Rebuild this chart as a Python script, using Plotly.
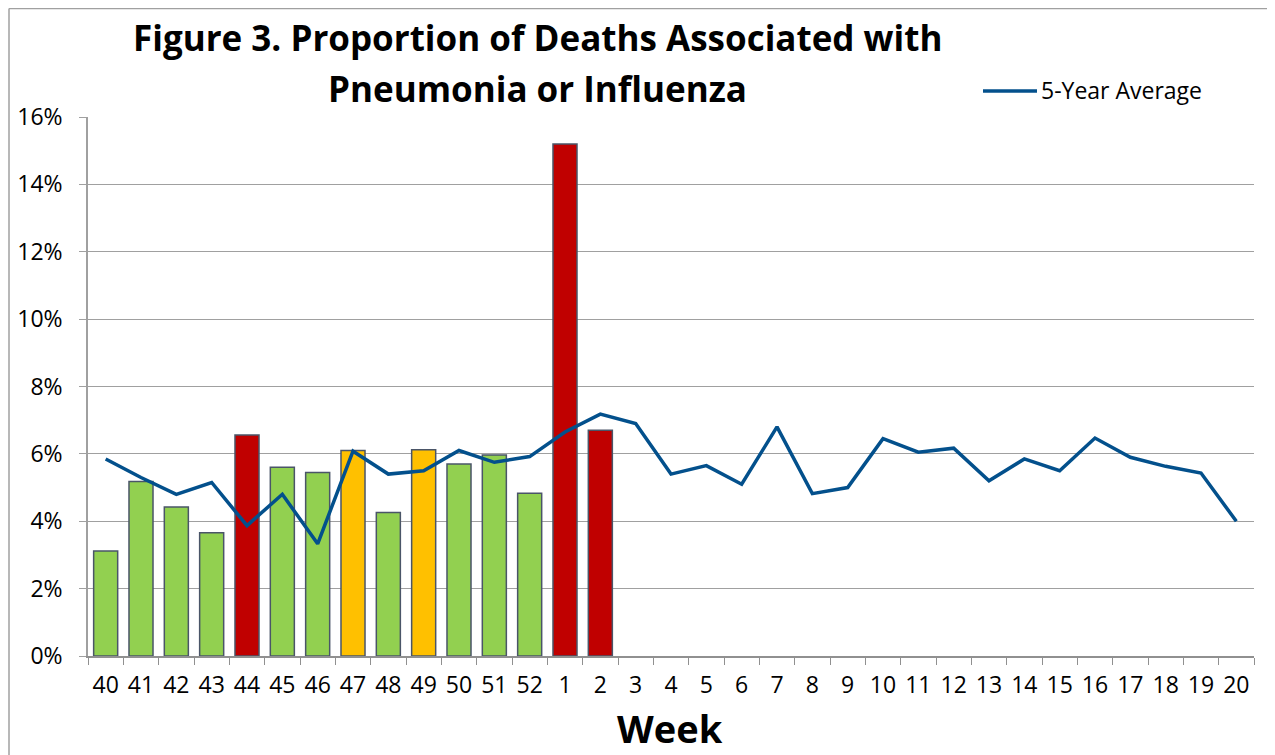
import plotly.graph_objects as go

weeks = ["40","41","42","43","44","45","46","47","48","49","50","51","52",
         "1","2","3","4","5","6","7","8","9","10","11","12","13","14","15","16","17","18","19","20"]
bar_weeks = weeks[:15]
bar_values = [3.12, 5.18, 4.42, 3.66, 6.56, 5.6, 5.45, 6.1, 4.26, 6.12, 5.7, 5.97, 4.83, 15.2, 6.7]
bar_levels = ["low","low","low","low","high","low","low","mid","low","mid","low","low","low","high","high"]
avg_values = [5.85, 5.3, 4.8, 5.15, 3.87, 4.8, 3.33, 6.08, 5.4, 5.5, 6.1, 5.75, 5.92,
              6.65, 7.18, 6.9, 5.4, 5.65, 5.1, 6.8, 4.82, 5.0, 6.45, 6.05, 6.17, 5.2, 5.85,
              5.5, 6.47, 5.9, 5.63, 5.43, 4.0]
y_ticks = [0, 2, 4, 6, 8, 10, 12, 14, 16]
y_tick_labels = ["0%", "2%", "4%", "6%", "8%", "10%", "12%", "14%", "16%"]
title_lines = ["Figure 3. Proportion of Deaths Associated with", "Pneumonia or Influenza"]
legend_label = "5-Year Average"

level_colors = {"low": "#92D050", "mid": "#FFC000", "high": "#C00000"}
LINE_COLOR = "#03508C"
FONT = "Open Sans"
W, H = 1275, 755
OFF = 8  # page body margin offset
# desired on-screen plot box: x 88..1254, y 117..656
L = 88 - OFF
R = W - (1254 - OFF)
T = 117 - OFF
B = H - (656 - OFF)

def py(pix):
    return (H - B - (pix - OFF)) / (H - T - B)

def px(pix):
    return ((pix - OFF) - L) / (W - L - R)

fig = go.Figure()
fig.add_trace(go.Bar(
    x=bar_weeks, y=bar_values,
    marker=dict(color=[level_colors[l] for l in bar_levels],
                line=dict(color="#4A5568", width=1.5)),
    width=0.68, showlegend=False, name="Proportion",
))
fig.add_trace(go.Scatter(
    x=weeks, y=avg_values, mode="lines", name=legend_label, showlegend=False,
    line=dict(color=LINE_COLOR, width=3.5),
))

fig.update_layout(
    width=W, height=H,
    margin=dict(l=L, r=R, t=T, b=B, autoexpand=False),
    paper_bgcolor="white", plot_bgcolor="white",
    font=dict(family=FONT, color="black", size=23),
    bargap=0.32,
)
for line_text, ypix in zip(title_lines, [37, 88]):
    fig.add_annotation(text="<b>" + line_text + "</b>", xref="paper", yref="paper",
                       x=px(537), y=py(ypix), xanchor="center", yanchor="middle", showarrow=False,
                       font=dict(family=FONT, size=35, color="black"))
fig.add_annotation(text="<b>Week</b>", xref="paper", yref="paper",
                   x=px(670), y=py(728), xanchor="center", yanchor="middle", showarrow=False,
                   font=dict(family=FONT, size=38, color="black"))
# legend
fig.add_shape(type="line", xref="paper", yref="paper",
              x0=px(983), x1=px(1037), y0=py(91), y1=py(91),
              line=dict(color=LINE_COLOR, width=3.5))
fig.add_annotation(text=legend_label, xref="paper", yref="paper",
                   x=px(1039), y=py(90), xanchor="left", yanchor="middle", showarrow=False,
                   font=dict(family=FONT, size=23, color="black"))
fig.update_xaxes(
    type="category", categoryorder="array", categoryarray=weeks,
    range=[-0.5, len(weeks) - 0.5],
    showline=True, linecolor="#909090", linewidth=1.5,
    ticks="outside", tickson="boundaries", ticklen=7, tickcolor="#909090",
    ticklabelstandoff=8,
    showgrid=False, automargin=False,
    tickfont=dict(size=23),
)
fig.update_yaxes(
    range=[0, 16], tickvals=y_ticks, ticktext=y_tick_labels,
    showgrid=True, gridcolor="#A0A0A0", gridwidth=1.2,
    showline=True, linecolor="#A0A0A0", linewidth=1.5,
    ticks="outside", ticklen=7, tickcolor="#A0A0A0",
    ticklabelstandoff=12,
    zeroline=False, tickfont=dict(size=23), automargin=False,
)
fig.add_shape(type="line", xref="paper", yref="paper",
              x0=px(9), x1=px(9), y0=py(760), y1=py(8.5),
              line=dict(color="#A0A0A0", width=1.5), layer="below")
fig.add_shape(type="line", xref="paper", yref="paper",
              x0=px(9), x1=px(1275), y0=py(8.5), y1=py(8.5),
              line=dict(color="#A0A0A0", width=1.5), layer="below")

fig.write_html("out.html")
